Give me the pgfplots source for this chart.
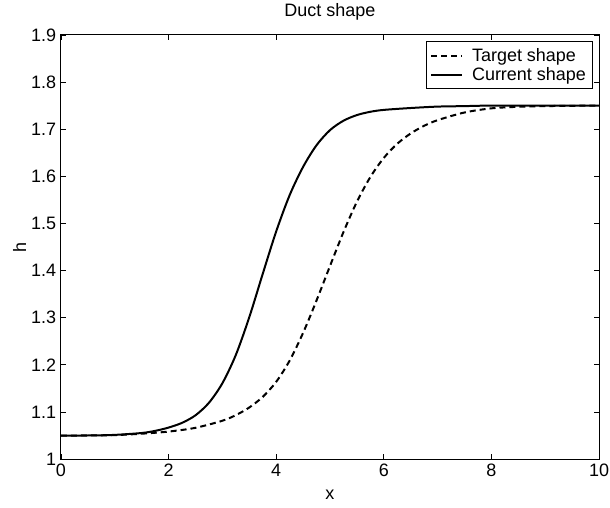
\documentclass[border=0pt]{standalone}
\usepackage{fontspec}
\setmainfont{Liberation Sans}
\usepackage{pgfplots}
\pgfplotsset{compat=1.18}

\begin{document}
\begin{tikzpicture}
\begin{axis}[
    scale only axis,
    width=404pt, height=318.5pt,
    font=\fontsize{13.5}{16}\selectfont,
    xmin=0, xmax=10, ymin=1, ymax=1.9,
    xtick={0,2,4,6,8,10},
    ytick={1,1.1,1.2,1.3,1.4,1.5,1.6,1.7,1.8,1.9},
    yticklabel style={/pgf/number format/fixed, /pgf/number format/precision=1},
    /pgf/number format/assume math mode=true,
    tick align=inside,
    tick pos=both,
    major tick length=4pt,
    axis line style={line width=0.75pt},
    every tick/.style={black, line width=0.6pt},
    title={Duct shape},
    title style={at={(0.5,1)}, anchor=center, yshift=11pt},
    xlabel={x},
    xlabel style={at={(0.5,0)}, anchor=center, yshift=-26.6pt},
    ylabel={h},
    ylabel style={at={(0,0.5)}, anchor=center, yshift=31pt},
    legend style={at={(1,1)}, anchor=north east, xshift=-4.5pt, yshift=-4.5pt,
        draw=black, line width=0.6pt, fill=white, inner sep=3pt,
        row sep=-1pt,
        /tikz/every odd column/.append style={column sep=5pt},
        font=\fontsize{13.5}{16}\selectfont},
    legend cell align=left,
    legend image code/.code={\draw[#1] (0pt,0pt) -- (23pt,0pt);},
]
% target shape
\addplot[black, line width=1.5pt, dash pattern=on 4.5pt off 3pt, smooth] coordinates {
(0,1.050)(0.5,1.0503)(1.0,1.051)(1.5,1.054)(2.0,1.0585)(2.5,1.0665)(3.0,1.0815)
(3.25,1.0934)(3.5,1.1096)(3.75,1.1321)(4.0,1.164)(4.25,1.209)(4.5,1.2678)
(4.75,1.3366)(5.0,1.4097)(5.25,1.4816)(5.5,1.546)(5.75,1.5985)(6.0,1.6391)
(6.25,1.6691)(6.5,1.691)(6.75,1.7073)(7.0,1.7192)(7.5,1.7355)(8.0,1.7443)
(8.5,1.7476)(9.0,1.749)(9.5,1.7497)(10.0,1.750)};
% current shape
\addplot[black, line width=1.5pt, smooth] coordinates {
(0,1.050)(0.5,1.0502)(1.0,1.0515)(1.5,1.0555)(1.75,1.060)(2.0,1.067)(2.25,1.077)
(2.5,1.093)(2.75,1.1195)(3.0,1.161)(3.25,1.221)(3.5,1.301)(3.75,1.393)
(4.0,1.483)(4.25,1.560)(4.5,1.620)(4.75,1.666)(5.0,1.698)(5.25,1.718)
(5.5,1.730)(5.75,1.737)(6.0,1.741)(6.5,1.745)(7.0,1.748)(7.5,1.749)
(8.0,1.750)(10.0,1.750)};
\legend{Target shape, Current shape}
\end{axis}
\pgfresetboundingbox
\path ([shift={(-45.75pt,-36.4pt)}]current axis.south west) rectangle ([shift={(8.25pt,26.25pt)}]current axis.north east);
\end{tikzpicture}
\end{document}
